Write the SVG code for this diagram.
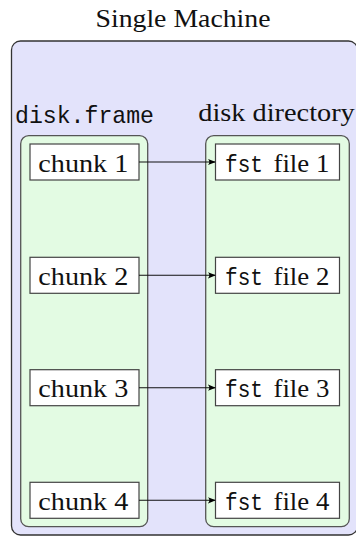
<svg xmlns="http://www.w3.org/2000/svg" width="356" height="536" viewBox="0 0 356 536">
  <defs>
    <marker id="arrow" viewBox="0 0 10 10" refX="9" refY="5" markerWidth="8" markerHeight="8" markerUnits="userSpaceOnUse" orient="auto">
      <path d="M0,1 Q4,5 0,9 L10,5 Z" fill="#000"/>
    </marker>
  </defs>
  <style>
    .machine { fill: #e3e3fb; stroke: #333; stroke-width: 1.3; }
    .column { fill: #e3fbe3; stroke: #555; stroke-width: 1.3; }
    .box { fill: #fff; stroke: #444; stroke-width: 1.2; }
    .rm { font-family: 'Liberation Serif', 'Times New Roman', serif; font-size: 25px; fill: #111; }
    .tt { font-family: 'Liberation Mono', 'Courier New', monospace; font-size: 24px; fill: #111; }
    .edge { stroke: #111; stroke-width: 1.1; fill: none; marker-end: url(#arrow); }
  </style>

  <!-- machine container -->
  <g id="machine">
    <rect class="machine" x="11.5" y="41" width="346" height="494" rx="9"/>
    <text class="rm" x="183" y="26.5" text-anchor="middle" textLength="175" lengthAdjust="spacingAndGlyphs">Single Machine</text>
  </g>

  <!-- disk.frame column -->
  <g id="diskframe">
    <rect class="column" x="20.7" y="135.7" width="127" height="391" rx="8"/>
    <text class="tt" x="15" y="123.3" textLength="139" lengthAdjust="spacingAndGlyphs">disk.frame</text>
  </g>

  <!-- disk directory column -->
  <g id="diskdir">
    <rect class="column" x="205.7" y="135.7" width="143.6" height="391" rx="8"/>
    <text class="rm" x="198.3" y="120.7" textLength="156.5" lengthAdjust="spacingAndGlyphs">disk directory</text>
  </g>

  <!-- chunks -->
  <g id="chunk1">
    <rect class="box" x="30" y="144" width="109" height="36"/>
    <text class="rm" x="38.3" y="171.5" textLength="90" lengthAdjust="spacingAndGlyphs">chunk 1</text>
  </g>
  <g id="chunk2">
    <rect class="box" x="30" y="257.3" width="109" height="36"/>
    <text class="rm" x="38.3" y="284.8" textLength="90" lengthAdjust="spacingAndGlyphs">chunk 2</text>
  </g>
  <g id="chunk3">
    <rect class="box" x="30" y="369.7" width="109" height="36"/>
    <text class="rm" x="38.3" y="397.2" textLength="90" lengthAdjust="spacingAndGlyphs">chunk 3</text>
  </g>
  <g id="chunk4">
    <rect class="box" x="30" y="482.3" width="109" height="36"/>
    <text class="rm" x="38.3" y="509.8" textLength="90" lengthAdjust="spacingAndGlyphs">chunk 4</text>
  </g>

  <!-- fst files -->
  <g id="file1">
    <rect class="box" x="215.5" y="144" width="124" height="36"/>
    <text class="tt" x="225" y="171.5" textLength="38" lengthAdjust="spacingAndGlyphs">fst</text>
    <text class="rm" x="273.5" y="171.5" textLength="55.8" lengthAdjust="spacingAndGlyphs">file 1</text>
  </g>
  <g id="file2">
    <rect class="box" x="215.5" y="257.3" width="124" height="36"/>
    <text class="tt" x="225" y="284.8" textLength="38" lengthAdjust="spacingAndGlyphs">fst</text>
    <text class="rm" x="273.5" y="284.8" textLength="55.8" lengthAdjust="spacingAndGlyphs">file 2</text>
  </g>
  <g id="file3">
    <rect class="box" x="215.5" y="369.7" width="124" height="36"/>
    <text class="tt" x="225" y="397.2" textLength="38" lengthAdjust="spacingAndGlyphs">fst</text>
    <text class="rm" x="273.5" y="397.2" textLength="55.8" lengthAdjust="spacingAndGlyphs">file 3</text>
  </g>
  <g id="file4">
    <rect class="box" x="215.5" y="482.3" width="124" height="36"/>
    <text class="tt" x="225" y="509.8" textLength="38" lengthAdjust="spacingAndGlyphs">fst</text>
    <text class="rm" x="273.5" y="509.8" textLength="55.8" lengthAdjust="spacingAndGlyphs">file 4</text>
  </g>

  <!-- connectors: chunk -> fst file -->
  <g id="edges">
    <line class="edge" x1="139" y1="162" x2="215" y2="162"/>
    <line class="edge" x1="139" y1="275.3" x2="215" y2="275.3"/>
    <line class="edge" x1="139" y1="387.7" x2="215" y2="387.7"/>
    <line class="edge" x1="139" y1="500.3" x2="215" y2="500.3"/>
  </g>
</svg>
